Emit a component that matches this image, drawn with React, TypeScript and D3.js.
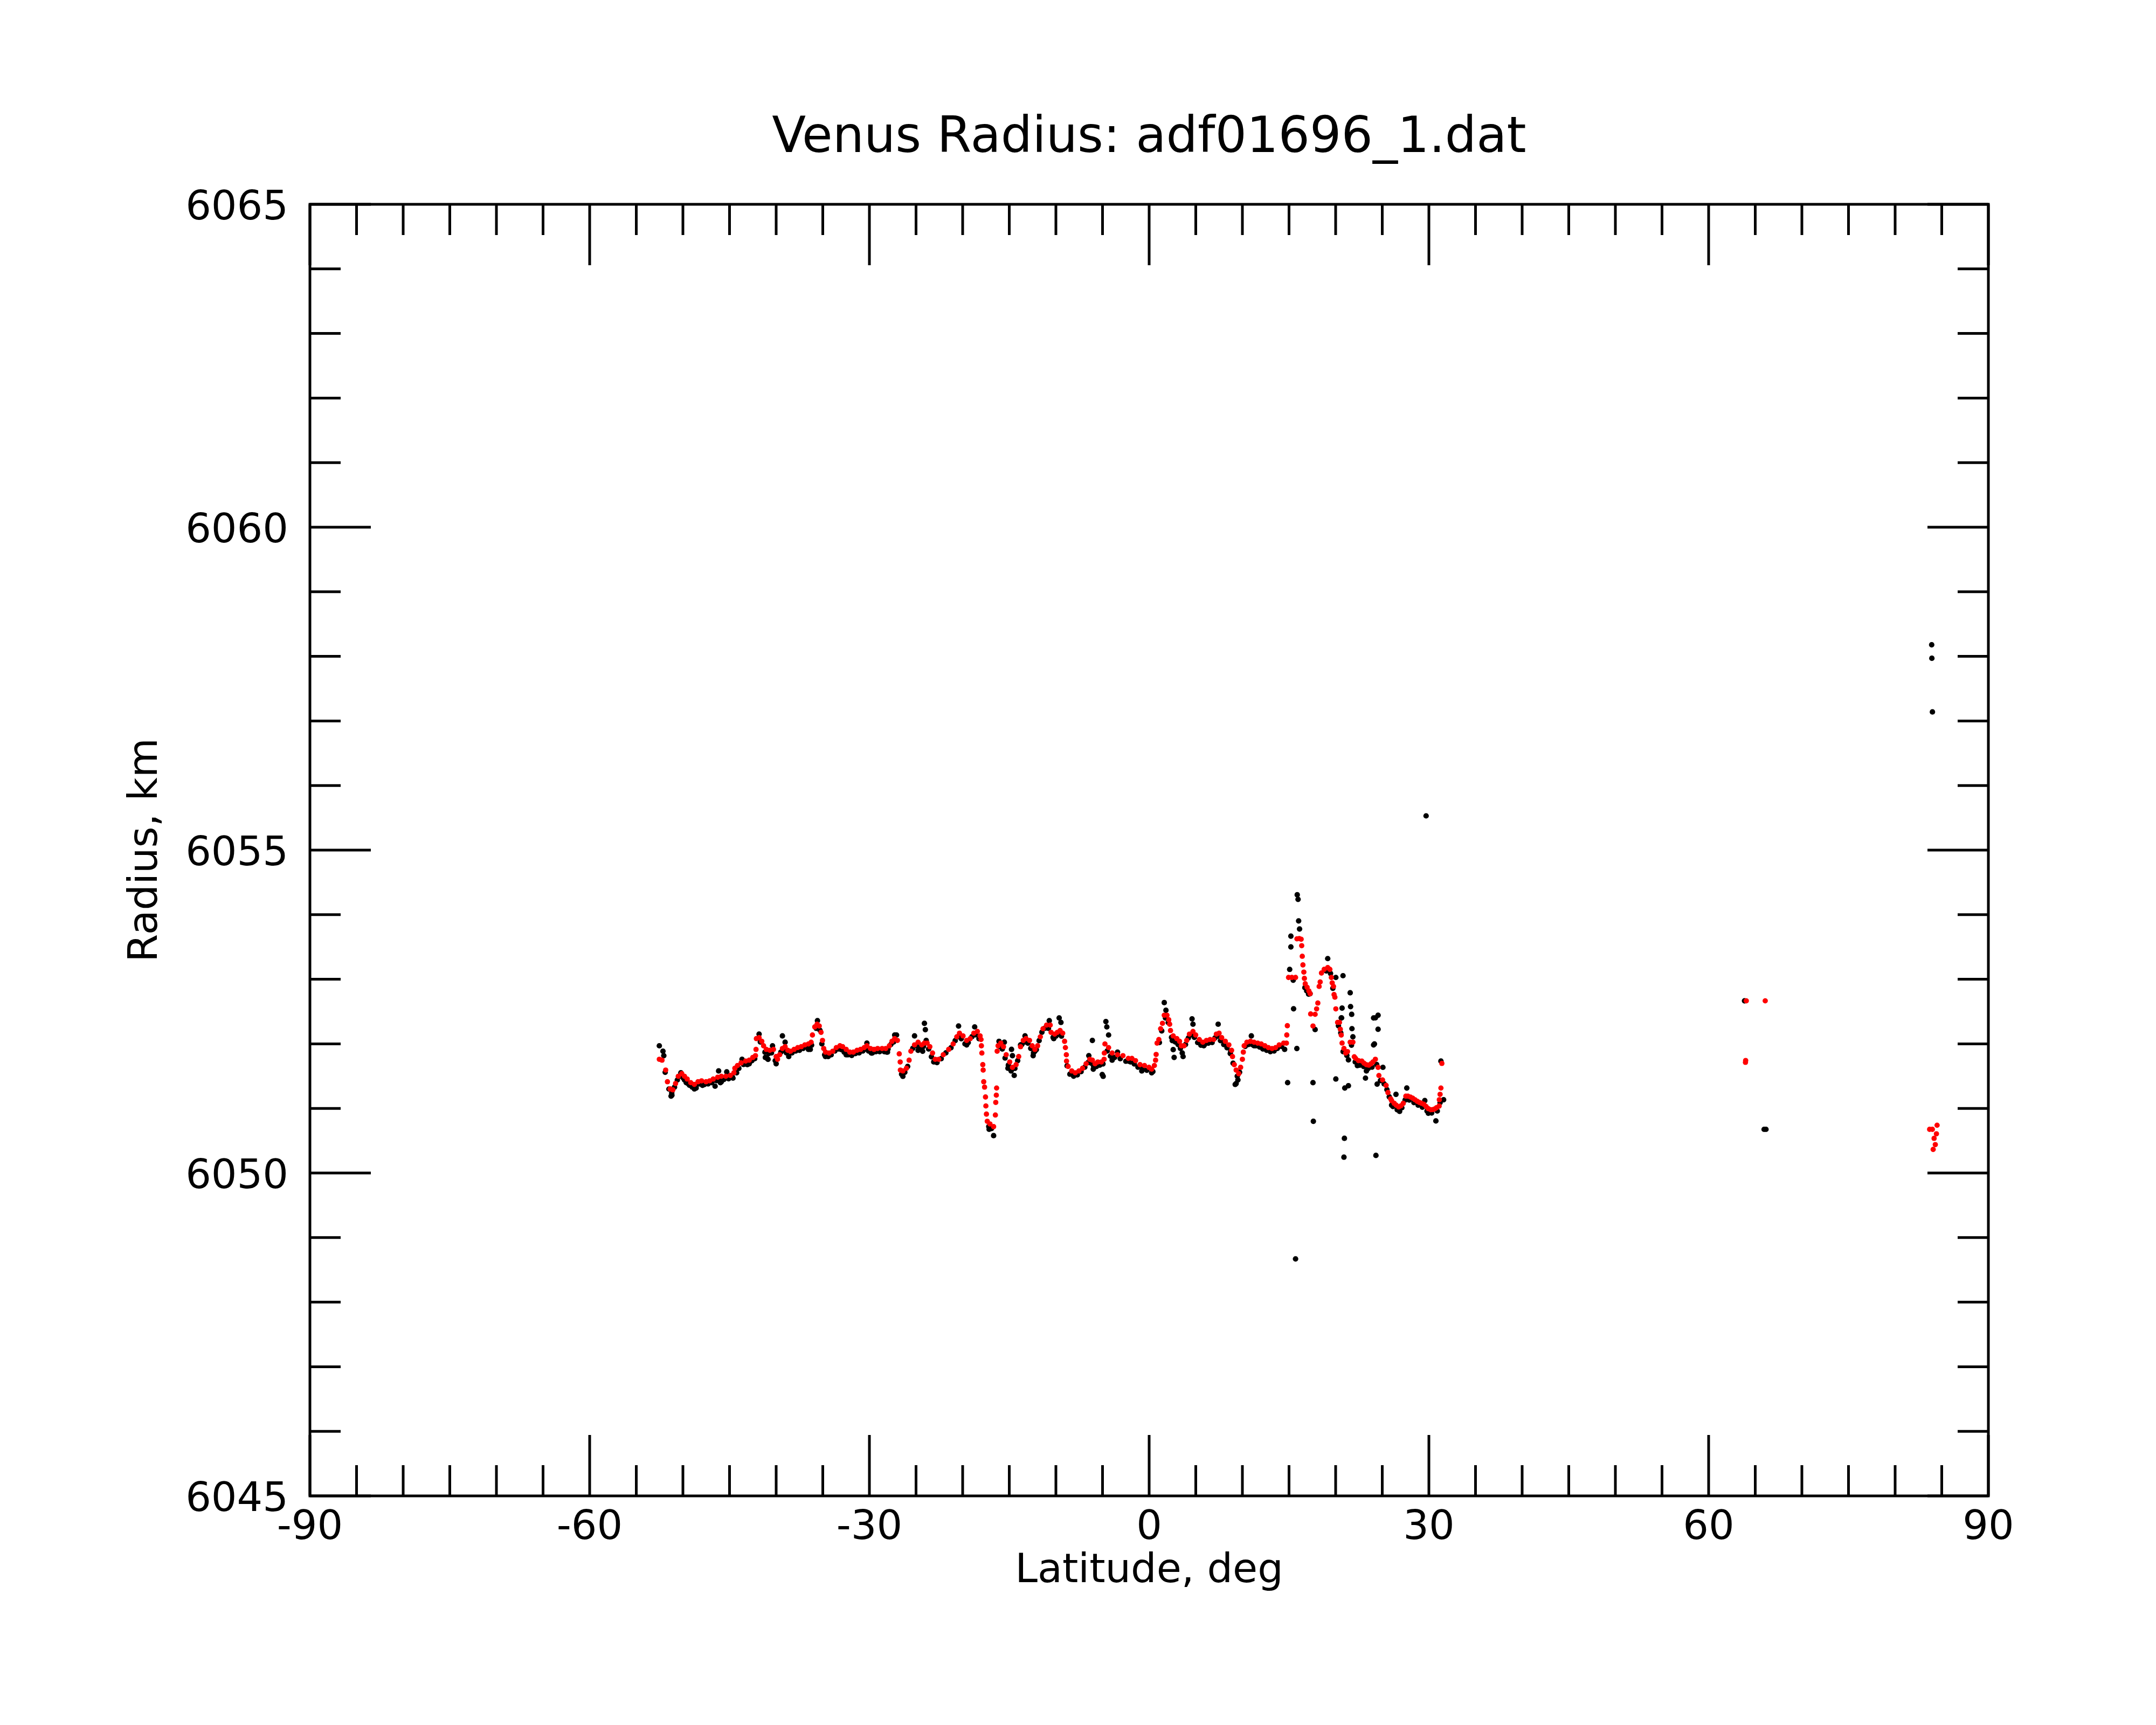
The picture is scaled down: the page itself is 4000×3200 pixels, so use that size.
import * as d3 from 'd3'

// latitude (deg), radius (km)
const redSouth: [number, number][] = [
  [-52.53, 6051.761], [-52.24, 6051.747], [-51.85, 6051.594], [-51.66, 6051.413], [-51.37, 6051.302],
  [-51.08, 6051.288], [-50.79, 6051.385], [-50.5, 6051.497], [-50.12, 6051.538], [-49.83, 6051.497],
  [-49.54, 6051.455], [-49.16, 6051.399], [-48.77, 6051.372], [-48.38, 6051.413], [-48.0, 6051.427],
  [-47.52, 6051.413], [-47.13, 6051.427], [-46.75, 6051.455], [-46.27, 6051.483], [-45.88, 6051.497],
  [-45.4, 6051.497], [-44.92, 6051.511], [-44.53, 6051.552], [-44.43, 6051.622], [-44.15, 6051.664],
  [-43.76, 6051.705], [-43.28, 6051.733], [-42.89, 6051.747], [-42.51, 6051.789], [-42.22, 6051.817],
  [-42.16, 6051.914], [-42.12, 6052.081], [-41.83, 6052.095], [-41.54, 6052.039], [-41.35, 6051.97],
  [-41.06, 6051.914], [-40.68, 6051.9], [-40.29, 6051.914], [-40.0, 6051.803], [-39.85, 6051.761],
  [-39.62, 6051.831], [-39.33, 6051.928], [-39.04, 6051.956], [-38.75, 6051.9], [-38.46, 6051.886],
  [-38.08, 6051.914], [-37.69, 6051.942], [-37.31, 6051.956], [-36.92, 6051.984], [-36.54, 6051.998],
  [-36.25, 6052.025], [-36.11, 6052.137], [-35.86, 6052.262], [-35.61, 6052.304], [-35.38, 6052.276],
  [-35.19, 6052.178], [-35.03, 6052.053], [-34.9, 6051.928], [-34.71, 6051.872], [-34.32, 6051.858],
  [-33.93, 6051.886], [-33.55, 6051.942], [-33.16, 6051.97], [-32.87, 6051.956], [-32.49, 6051.914],
  [-32.1, 6051.872], [-31.72, 6051.872], [-31.33, 6051.9], [-30.95, 6051.914], [-30.56, 6051.942],
  [-30.27, 6051.97], [-29.89, 6051.928], [-29.5, 6051.914], [-29.12, 6051.928], [-28.64, 6051.928],
  [-28.25, 6051.928], [-27.86, 6051.97], [-27.58, 6052.039], [-27.29, 6052.081], [-27.0, 6052.053],
]

const redMid: [number, number][] = [
  [-26.8, 6051.845], [-26.7, 6051.719], [-26.68, 6051.594], [-26.41, 6051.58], [-26.03, 6051.622],
  [-25.74, 6051.747], [-25.55, 6051.886], [-25.16, 6051.984], [-24.78, 6052.025], [-24.39, 6051.984],
  [-24.1, 6052.011], [-23.81, 6052.011], [-23.52, 6051.956], [-23.23, 6051.858], [-22.94, 6051.761],
  [-22.56, 6051.761], [-22.08, 6051.831], [-21.5, 6051.914], [-21.02, 6051.998], [-20.63, 6052.109],
  [-20.34, 6052.165], [-19.96, 6052.123], [-19.57, 6052.053], [-19.19, 6052.081], [-18.8, 6052.165],
  [-18.42, 6052.192], [-18.13, 6052.123], [-18.03, 6052.067], [-17.99, 6051.97], [-17.94, 6051.858],
  [-17.84, 6051.678], [-17.8, 6051.594], [-17.74, 6051.413], [-17.65, 6051.33], [-17.55, 6051.177],
  [-17.51, 6051.038], [-17.45, 6050.912], [-17.36, 6050.801], [-17.07, 6050.759], [-16.68, 6050.718],
  [-16.49, 6050.898], [-16.45, 6051.093], [-16.39, 6051.205], [-16.36, 6051.316], [-16.3, 6051.886],
  [-16.2, 6051.97], [-15.91, 6052.011], [-15.62, 6051.956], [-15.33, 6051.831], [-14.95, 6051.719],
  [-14.66, 6051.636], [-14.27, 6051.678], [-13.99, 6051.803], [-13.79, 6051.956], [-13.5, 6052.053],
  [-13.21, 6052.081], [-12.83, 6052.053], [-12.54, 6051.97], [-12.25, 6051.914], [-11.96, 6051.97],
  [-11.67, 6052.109], [-11.38, 6052.234], [-11.0, 6052.29], [-10.61, 6052.29], [-10.52, 6052.178],
  [-10.13, 6052.151], [-9.84, 6052.178], [-9.55, 6052.206], [-9.27, 6052.165], [-9.07, 6052.039],
  [-8.98, 6051.942], [-8.88, 6051.831], [-8.86, 6051.733], [-8.69, 6051.65], [-8.3, 6051.58],
  [-7.92, 6051.552], [-7.53, 6051.58], [-7.14, 6051.622], [-6.76, 6051.692], [-6.37, 6051.761],
  [-6.09, 6051.747], [-5.8, 6051.692], [-5.51, 6051.719], [-5.12, 6051.719], [-4.83, 6051.761],
  [-4.81, 6051.858], [-4.74, 6051.998], [-4.35, 6051.942], [-3.97, 6051.858], [-3.39, 6051.831],
  [-2.81, 6051.817], [-2.23, 6051.775], [-1.85, 6051.775], [-1.46, 6051.74],
]

const redNorth: [number, number][] = [
  [-0.98, 6051.678], [-0.5, 6051.664], [-0.02, 6051.636], [0.27, 6051.608], [0.56, 6051.664],
  [0.69, 6051.747], [0.75, 6051.836], [0.85, 6052.011], [1.04, 6052.067], [1.23, 6052.234],
  [1.43, 6052.318], [1.62, 6052.443], [1.91, 6052.443], [2.1, 6052.373], [2.2, 6052.304],
  [2.29, 6052.206], [2.58, 6052.123], [2.97, 6052.081], [3.26, 6052.039], [3.45, 6051.97],
  [3.74, 6051.97], [4.03, 6052.053], [4.32, 6052.151], [4.7, 6052.192], [4.99, 6052.137],
  [5.38, 6052.067], [5.76, 6052.025], [6.15, 6052.053], [6.53, 6052.067], [6.92, 6052.067],
  [7.21, 6052.151], [7.5, 6052.165], [7.78, 6052.095], [8.17, 6052.039], [8.55, 6051.984],
  [8.84, 6051.9], [8.94, 6051.803], [9.13, 6051.678], [9.33, 6051.594], [9.61, 6051.538],
  [9.81, 6051.636], [10.0, 6051.761], [10.1, 6051.872], [10.19, 6051.97], [10.48, 6052.025],
  [10.87, 6052.039], [11.25, 6052.025], [11.64, 6052.011], [12.02, 6051.998], [12.41, 6051.97],
  [12.79, 6051.942], [13.18, 6051.928], [13.56, 6051.942], [13.95, 6051.984], [14.43, 6052.011],
  [14.72, 6052.011], [14.76, 6052.137], [14.82, 6052.281], [14.95, 6053.028], [15.3, 6053.028],
  [15.7, 6053.028], [15.85, 6053.626], [16.1, 6053.63], [16.3, 6053.62], [16.36, 6053.52],
  [16.42, 6053.356], [16.49, 6053.222], [16.59, 6053.111], [16.65, 6053.014], [16.74, 6052.93],
  [16.94, 6052.875], [17.13, 6052.819], [17.26, 6052.777], [17.32, 6052.463], [17.57, 6052.276],
  [17.8, 6052.457], [17.96, 6052.541], [18.09, 6052.632], [18.23, 6052.889], [18.34, 6052.958],
  [18.48, 6053.097], [18.77, 6053.153], [19.15, 6053.181], [19.38, 6053.153], [19.54, 6053.028],
  [19.63, 6052.944], [19.77, 6052.889], [19.83, 6052.763], [19.92, 6052.722], [20.02, 6052.541],
  [20.21, 6052.332], [20.41, 6052.332], [20.5, 6052.226], [20.6, 6052.137], [20.69, 6052.012],
  [20.89, 6051.929], [21.08, 6051.858], [21.27, 6051.88], [21.56, 6052.026], [21.85, 6052.026],
  [22.0, 6051.8], [22.14, 6051.775], [22.45, 6051.74], [22.81, 6051.733], [23.05, 6051.7],
  [23.3, 6051.677], [23.55, 6051.67], [23.78, 6051.691], [24.0, 6051.72], [24.26, 6051.761],
  [24.55, 6051.636], [24.64, 6051.51], [25.03, 6051.441], [25.41, 6051.357], [25.61, 6051.246],
  [25.9, 6051.149], [26.0, 6051.12], [26.28, 6051.079], [26.5, 6051.05], [26.76, 6051.023],
  [27.0, 6051.04], [27.25, 6051.079], [27.53, 6051.19], [27.75, 6051.19], [28.02, 6051.176],
  [28.25, 6051.16], [28.5, 6051.135], [28.75, 6051.11], [28.98, 6051.093], [29.2, 6051.08],
  [29.46, 6051.065], [29.7, 6051.03], [29.94, 6050.996], [30.2, 6050.98], [30.42, 6050.982],
  [30.6, 6050.99], [30.81, 6051.01], [31.1, 6051.037], [31.12, 6051.135], [31.2, 6051.218],
  [31.29, 6051.316], [31.39, 6051.697],
]

const redFar: [number, number][] = [
  [63.95, 6051.714], [63.97, 6051.742], [64.04, 6052.666], [66.07, 6052.666],
  [83.7, 6050.676], [83.99, 6050.676], [84.5, 6050.74], [84.43, 6050.607],
  [84.18, 6050.537], [84.31, 6050.44], [84.08, 6050.365],
]

// black samples peeking out along the lower edge of the red band
const blackEdgeSouth: [number, number][] = [
  [-51.9, 6051.56], [-51.5, 6051.3], [-51.2, 6051.24], [-50.9, 6051.33], [-50.6, 6051.44],
  [-50.3, 6051.5], [-49.95, 6051.47], [-49.3, 6051.36], [-49.0, 6051.33], [-48.5, 6051.37],
  [-48.2, 6051.38], [-47.7, 6051.37], [-47.3, 6051.38], [-46.9, 6051.4], [-46.4, 6051.43],
  [-46.0, 6051.44], [-45.6, 6051.45], [-45.1, 6051.46], [-44.7, 6051.49], [-44.0, 6051.62],
  [-43.5, 6051.68], [-43.0, 6051.7], [-42.6, 6051.74], [-42.3, 6051.77], [-41.7, 6052.03],
  [-41.2, 6051.87], [-40.8, 6051.85], [-40.5, 6051.86], [-40.1, 6051.74], [-39.5, 6051.87],
  [-39.2, 6051.9], [-38.9, 6051.86], [-38.3, 6051.86], [-37.9, 6051.89], [-37.5, 6051.9],
  [-37.1, 6051.93], [-36.7, 6051.95], [-36.2, 6051.98], [-35.7, 6052.24], [-35.3, 6052.21],
  [-35.1, 6052.0], [-34.8, 6051.83], [-34.5, 6051.81], [-34.1, 6051.83], [-33.7, 6051.89],
  [-33.3, 6051.92], [-33.0, 6051.91], [-32.7, 6051.87], [-32.3, 6051.83], [-31.9, 6051.82],
  [-31.5, 6051.85], [-31.1, 6051.86], [-30.7, 6051.89], [-30.4, 6051.92], [-30.1, 6051.89],
  [-29.6, 6051.87], [-29.3, 6051.88], [-28.9, 6051.88], [-28.4, 6051.88], [-28.0, 6051.92],
  [-27.7, 6051.99], [-27.4, 6052.03],
]

const blackEdgeMid: [number, number][] = [
  [-26.55, 6051.53], [-26.2, 6051.56], [-25.9, 6051.65], [-25.35, 6051.93], [-24.95, 6051.97],
  [-24.6, 6051.94], [-24.2, 6051.96], [-23.65, 6051.92], [-23.35, 6051.8], [-23.1, 6051.72],
  [-22.75, 6051.71], [-22.3, 6051.77], [-21.8, 6051.86], [-21.25, 6051.94], [-20.8, 6052.05],
  [-20.5, 6052.11], [-20.15, 6052.08], [-19.75, 6052.0], [-19.4, 6052.02], [-19.0, 6052.11],
  [-18.6, 6052.14], [-18.25, 6052.08], [-17.2, 6050.72], [-16.9, 6050.69], [-16.05, 6051.96],
  [-15.75, 6051.92], [-15.45, 6051.78], [-15.1, 6051.67], [-14.8, 6051.58], [-14.4, 6051.62],
  [-14.1, 6051.74], [-13.65, 6051.99], [-13.35, 6052.03], [-13.0, 6052.01], [-12.7, 6051.93],
  [-12.4, 6051.86], [-12.1, 6051.91], [-11.8, 6052.05], [-11.5, 6052.18], [-11.2, 6052.24],
  [-10.8, 6052.24], [-10.3, 6052.1], [-10.0, 6052.12], [-9.7, 6052.15], [-9.4, 6052.12],
  [-8.8, 6051.66], [-8.5, 6051.53], [-8.1, 6051.5], [-7.7, 6051.52], [-7.3, 6051.57],
  [-6.9, 6051.64], [-6.55, 6051.71], [-6.2, 6051.7], [-5.95, 6051.65], [-5.65, 6051.65],
  [-5.3, 6051.67], [-4.95, 6051.69], [-4.5, 6051.89], [-4.15, 6051.81], [-3.7, 6051.79],
  [-3.1, 6051.77], [-2.5, 6051.73], [-2.0, 6051.72], [-1.6, 6051.69], [-1.2, 6051.64],
]

const blackEdgeNorth: [number, number][] = [
  [-0.7, 6051.62], [-0.25, 6051.59], [0.4, 6051.57], [1.1, 6052.02], [1.35, 6052.2],
  [1.75, 6052.4], [2.05, 6052.33], [2.4, 6052.1], [2.8, 6052.03], [3.1, 6051.99],
  [3.35, 6051.93], [3.9, 6051.99], [4.2, 6052.09], [4.5, 6052.14], [4.85, 6052.1],
  [5.2, 6052.02], [5.55, 6051.98], [5.95, 6051.99], [6.35, 6052.01], [6.75, 6052.02],
  [7.05, 6052.09], [7.35, 6052.12], [7.65, 6052.05], [8.0, 6051.99], [8.35, 6051.94],
  [8.7, 6051.85], [9.0, 6051.7], [9.45, 6051.5], [9.7, 6051.56], [10.3, 6051.96],
  [10.65, 6051.99], [11.05, 6051.99], [11.45, 6051.97], [11.85, 6051.95], [12.2, 6051.92],
  [12.6, 6051.9], [13.0, 6051.88], [13.4, 6051.89], [13.75, 6051.93], [14.2, 6051.96],
  [16.7, 6052.87], [16.9, 6052.82], [17.1, 6052.77], [19.0, 6053.13], [19.45, 6053.09],
  [19.7, 6052.86], [20.3, 6052.28], [20.55, 6052.17], [20.8, 6051.88], [21.2, 6051.82],
  [21.7, 6051.98], [22.1, 6051.72], [22.6, 6051.67], [23.0, 6051.65], [23.5, 6051.62],
  [23.9, 6051.64], [24.4, 6051.68], [24.8, 6051.43], [25.2, 6051.38], [25.5, 6051.29],
  [25.75, 6051.18], [26.15, 6051.03], [26.6, 6050.98], [27.1, 6051.01], [27.45, 6051.13],
  [27.9, 6051.13], [28.4, 6051.09], [28.85, 6051.05], [29.3, 6051.02], [29.8, 6050.96],
  [30.3, 6050.93], [30.9, 6050.96], [31.2, 6051.09],
]

const blackSouth: [number, number][] = [
  [-52.53, 6051.97], [-52.14, 6051.886], [-52.05, 6051.817], [-51.27, 6051.191], [-51.18, 6051.205],
  [-50.22, 6051.552], [-49.83, 6051.441], [-49.64, 6051.399], [-49.45, 6051.385], [-48.77, 6051.302],
  [-48.58, 6051.316], [-47.9, 6051.358], [-46.55, 6051.344], [-46.17, 6051.58], [-45.98, 6051.399],
  [-45.88, 6051.413], [-45.3, 6051.566], [-44.63, 6051.469], [-44.24, 6051.552], [-43.66, 6051.761],
  [-43.09, 6051.678], [-42.89, 6051.692], [-41.83, 6052.151], [-41.16, 6051.789], [-40.97, 6051.775],
  [-40.87, 6051.761], [-40.39, 6051.97], [-40.0, 6051.692], [-39.33, 6052.123], [-39.04, 6052.025],
  [-38.65, 6051.803], [-36.54, 6051.914], [-36.34, 6051.914], [-35.57, 6052.359], [-34.71, 6051.803],
  [-34.42, 6051.803], [-32.49, 6051.831], [-31.91, 6051.831], [-30.27, 6052.011], [-29.79, 6051.858],
  [-29.7, 6051.858], [-28.15, 6051.872], [-28.06, 6051.872], [-27.29, 6052.137],
]

const blackMid: [number, number][] = [
  [-27.09, 6052.137], [-26.41, 6051.497], [-25.16, 6052.123], [-24.78, 6051.9], [-24.29, 6051.886],
  [-24.1, 6052.318], [-24.0, 6052.22], [-23.91, 6052.053], [-22.85, 6051.719], [-20.44, 6052.276],
  [-19.57, 6051.984], [-18.71, 6052.262], [-17.16, 6050.676], [-16.68, 6050.579], [-16.1, 6052.039],
  [-15.53, 6052.025], [-15.14, 6051.622], [-14.85, 6051.608], [-14.76, 6051.914], [-14.66, 6051.817],
  [-14.47, 6051.511], [-13.79, 6051.984], [-13.31, 6052.123], [-12.44, 6051.817], [-12.25, 6051.886],
  [-10.71, 6052.359], [-10.23, 6052.081], [-9.65, 6052.401], [-9.46, 6052.332], [-8.2, 6051.538],
  [-7.82, 6051.525], [-6.47, 6051.817], [-6.09, 6052.053], [-5.99, 6051.608], [-5.03, 6051.525],
  [-4.93, 6051.497], [-4.64, 6052.345], [-4.54, 6052.262], [-4.35, 6052.137], [-3.97, 6051.747],
  [-3.39, 6051.872], [-2.23, 6051.733],
]

const blackNorth: [number, number][] = [
  [-0.79, 6051.58], [0.27, 6051.552], [1.62, 6052.638], [1.8, 6052.52], [2.48, 6052.05],
  [2.58, 6051.91], [2.68, 6051.79], [3.55, 6051.858], [3.64, 6051.803], [4.6, 6052.387],
  [4.7, 6052.304], [5.86, 6051.97], [7.4, 6052.304], [8.75, 6051.886], [9.23, 6051.371],
  [9.33, 6051.385], [9.52, 6051.441], [10.96, 6052.123], [11.25, 6051.97], [13.18, 6051.914],
  [14.53, 6051.914], [14.85, 6051.399], [15.07, 6053.153], [15.2, 6053.668], [15.2, 6053.501],
  [15.45, 6052.986], [15.49, 6052.543], [15.84, 6051.928], [15.88, 6054.308], [15.97, 6054.238],
  [16.03, 6053.904], [16.13, 6053.779], [17.26, 6052.777], [17.57, 6051.399], [17.61, 6050.801],
  [17.8, 6052.221], [19.15, 6053.32], [20.02, 6053.028], [20.02, 6051.455], [20.6, 6052.401],
  [20.64, 6052.402], [20.69, 6052.554], [20.79, 6053.055], [20.89, 6050.245], [20.94, 6050.537],
  [20.98, 6051.316], [21.37, 6051.352], [21.37, 6051.752], [21.56, 6052.791], [21.6, 6052.577],
  [21.72, 6052.457], [21.75, 6052.235], [21.85, 6052.109], [22.33, 6051.663], [23.2, 6051.469],
  [23.3, 6051.58], [24.07, 6052.401], [24.07, 6051.984], [24.16, 6051.998], [24.26, 6052.402],
  [24.32, 6050.272], [24.45, 6051.377], [24.55, 6052.443], [24.55, 6052.226], [25.07, 6051.636],
  [26.0, 6051.051], [26.47, 6051.218], [26.86, 6050.954], [27.63, 6051.316], [29.56, 6051.121],
  [29.94, 6050.926], [30.75, 6050.806], [31.29, 6051.733], [31.58, 6051.135],
]

const blackFar: [number, number][] = [
  [15.7, 6048.67], [29.7, 6055.53],
  [63.85, 6052.666], [65.95, 6050.676], [66.15, 6050.676],
  [83.92, 6058.18], [83.94, 6057.97], [84.0, 6057.14],
]

const xMajor = [-90, -60, -30, 0, 30, 60, 90]
const yMajor = [6045, 6050, 6055, 6060, 6065]
const xMinor = d3.range(-90, 90.1, 5)
const yMinor = d3.range(6045, 6065.1, 1)

const W = 4000
const H = 3200
const left = 575, right = 3689, top = 379, bottom = 2775
const minorLen = 57
const majorLen = 113
const font = "'DejaVu Sans', Verdana, sans-serif"

export default function App() {
  const x = d3.scaleLinear().domain([-90, 90]).range([left, right])
  const y = d3.scaleLinear().domain([6045, 6065]).range([bottom, top])

  const black = [
    ...blackEdgeSouth, ...blackEdgeMid, ...blackEdgeNorth,
    ...blackSouth, ...blackMid, ...blackNorth, ...blackFar,
  ]
  const red = [...redSouth, ...redMid, ...redNorth, ...redFar]

  const isMajorX = (v: number) => xMajor.includes(v)
  const isMajorY = (v: number) => yMajor.includes(v)

  return (
    <svg width={W} height={H} style={{ position: 'absolute', left: 0, top: 0, background: '#fff' }}>
      <rect x={0} y={0} width={W} height={H} fill="#fff" />

      <text x={(left + right) / 2} y={282} textAnchor="middle" fontFamily={font} fontSize={92} fill="#000">
        Venus Radius: adf01696_1.dat
      </text>

      {/* raw samples, then the smoothed ones on top */}
      <g fill="#000">
        {black.map((d, i) => (
          <circle key={'b' + i} cx={x(d[0])} cy={y(d[1])} r={5.1} />
        ))}
      </g>
      <g fill="#ff0000">
        {red.map((d, i) => (
          <circle key={'r' + i} cx={x(d[0])} cy={y(d[1])} r={4.9} />
        ))}
      </g>

      {/* frame and ticks */}
      <g stroke="#000" strokeWidth={5} fill="none">
        <rect x={left} y={top} width={right - left} height={bottom - top} />
        {xMinor.map((v) => {
          const len = isMajorX(v) ? majorLen : minorLen
          return (
            <g key={'xt' + v}>
              <line x1={x(v)} x2={x(v)} y1={bottom} y2={bottom - len} />
              <line x1={x(v)} x2={x(v)} y1={top} y2={top + len} />
            </g>
          )
        })}
        {yMinor.map((v) => {
          const len = isMajorY(v) ? majorLen : minorLen
          return (
            <g key={'yt' + v}>
              <line x1={left} x2={left + len} y1={y(v)} y2={y(v)} />
              <line x1={right} x2={right - len} y1={y(v)} y2={y(v)} />
            </g>
          )
        })}
      </g>

      <g fontFamily={font} fontSize={75} fill="#000">
        {xMajor.map((v) => (
          <text key={'xl' + v} x={x(v)} y={bottom + 80} textAnchor="middle">
            {v}
          </text>
        ))}
        {yMajor.map((v) => (
          <text key={'yl' + v} x={left - 40} y={y(v) + 28} textAnchor="end">
            {v}
          </text>
        ))}
        <text x={(left + right) / 2} y={2935} textAnchor="middle">
          Latitude, deg
        </text>
        <text
          transform={`translate(291, ${(top + bottom) / 2}) rotate(-90)`}
          textAnchor="middle"
        >
          Radius, km
        </text>
      </g>
    </svg>
  )
}
